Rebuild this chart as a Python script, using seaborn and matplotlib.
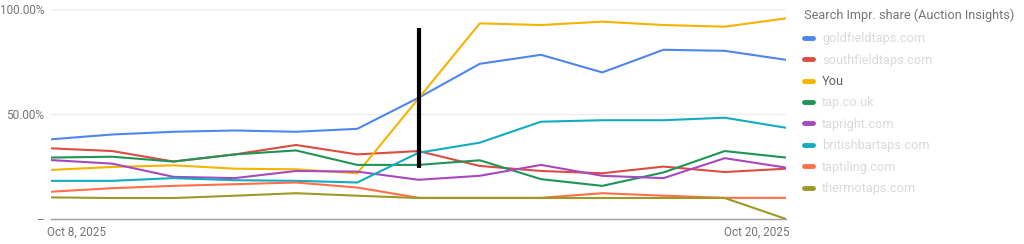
import numpy as np
import pandas as pd
import matplotlib
matplotlib.use("Agg")
import matplotlib.pyplot as plt
import matplotlib.transforms as mtrans
from matplotlib.lines import Line2D
import seaborn as sns

dates = pd.date_range("2025-10-08", "2025-10-20", freq="D")

series_names = ["goldfieldtaps.com", "southfieldtaps.com", "You", "tap.co.uk",
                "tapright.com", "britishbartaps.com", "taptiling.com", "thermotaps.com"]
blue_vals = [38.0, 40.3, 41.6, 42.2, 41.6, 43.0, 57.8, 74.0, 78.3, 69.9, 80.7, 80.2, 75.9]
red_vals = [33.7, 32.4, 27.4, 30.8, 35.3, 30.8, 32.4, 25.3, 22.9, 21.8, 25.0, 22.4, 24.0]
you_vals = [23.4, 24.8, 25.6, 24.0, 23.7, 21.8, 57.5, 93.3, 92.5, 94.1, 92.5, 91.7, 95.7]
green_vals = [29.3, 29.7, 27.4, 30.8, 32.7, 25.8, 25.8, 28.0, 19.0, 15.8, 22.2, 32.4, 29.3]
purple_vals = [28.1, 26.4, 20.1, 19.5, 22.9, 22.6, 18.7, 20.6, 25.8, 20.6, 19.5, 29.0, 24.5]
cyan_vals = [18.2, 18.2, 19.5, 18.5, 18.2, 17.4, 31.6, 36.4, 46.4, 47.1, 47.1, 48.3, 43.5]
orange_vals = [13.0, 14.7, 15.8, 16.6, 17.4, 15.0, 10.1, 10.1, 10.1, 12.3, 11.1, 10.1, 10.1]
olive_vals = [10.3, 10.0, 10.0, 11.1, 12.3, 11.1, 10.0, 10.0, 10.0, 10.0, 10.0, 10.0, 0.0]
all_vals = [blue_vals, red_vals, you_vals, green_vals, purple_vals, cyan_vals, orange_vals, olive_vals]

colors = ["#4F86EC", "#DC4C3F", "#F5B400", "#1E9456", "#A848C0", "#12ACC0", "#FF7049", "#9C9A25"]

y_ticks = [0, 50, 100]
y_tick_labels = ["\u2013", "50.00%", "100.00%"]
x_tick_labels = ["Oct 8, 2025", "Oct 20, 2025"]

marker_date = dates[6]
marker_low, marker_high = 24.5, 91.0

legend_title = "Search Impr. share (Auction Insights)"

df = pd.DataFrame({
    "date": np.tile(dates, len(series_names)),
    "site": np.repeat(series_names, len(dates)),
    "share": np.concatenate(all_vals),
})

sns.set_theme(style="white")
plt.rcParams["font.family"] = ["Roboto", "DejaVu Sans"]

fig = plt.figure(figsize=(10.24, 2.44), dpi=100)
ax = fig.add_axes([51 / 1024, 1 - 219 / 244, (786 - 51) / 1024, (219 - 9.3) / 244])

palette = dict(zip(series_names, colors))
sns.lineplot(data=df, x="date", y="share", hue="site", palette=palette,
             hue_order=series_names, linewidth=1.5, ax=ax, legend=False)

ax.vlines(marker_date, marker_low, marker_high, color="black", linewidth=3, zorder=5)

ax.set_xlim(dates[0], dates[-1])
ax.set_ylim(0, 100)
ax.set_xlabel("")
ax.set_ylabel("")

for yv in [50, 100]:
    ax.axhline(yv, color="#eeeeee", linewidth=1, zorder=0)

for s in ["top", "right", "left"]:
    ax.spines[s].set_visible(False)
ax.spines["bottom"].set_color("#9e9e9e")
ax.spines["bottom"].set_linewidth(1)

ax.set_yticks(y_ticks)
ax.set_yticklabels(y_tick_labels)
ax.tick_params(axis="y", length=0, pad=5, labelsize=8.5, labelcolor="#757575")

ax.set_xticks([dates[0], dates[-1]])
ax.set_xticklabels(x_tick_labels)
ax.tick_params(axis="x", length=3, width=1, color="#9e9e9e", pad=2,
               labelsize=8.5, labelcolor="#757575")
xl = ax.get_xticklabels()
xl[0].set_ha("left")
xl[1].set_ha("right")
xl[0].set_transform(xl[0].get_transform() + mtrans.ScaledTranslation(-4 / 100, 0, fig.dpi_scale_trans))
xl[1].set_transform(xl[1].get_transform() + mtrans.ScaledTranslation(3 / 100, 0, fig.dpi_scale_trans))

handles = [Line2D([0], [0], color=c, linewidth=3.5, solid_capstyle="round") for c in colors]
leg = fig.legend(handles, series_names, title=legend_title, loc="upper left",
                 bbox_to_anchor=(804 / 1024, 1 - 9 / 244), frameon=False,
                 fontsize=9.2, title_fontsize=9.2, handlelength=0.7,
                 handletextpad=0.7, labelspacing=0.66, borderpad=0,
                 borderaxespad=0, alignment="left")
leg._legend_box.sep = 7
leg.get_title().set_color("#757575")
for name, t in zip(series_names, leg.get_texts()):
    if name == "You":
        t.set_color("#616161")
    else:
        t.set_color("#dadada")

fig.savefig("out.png", dpi=100, facecolor="white")
